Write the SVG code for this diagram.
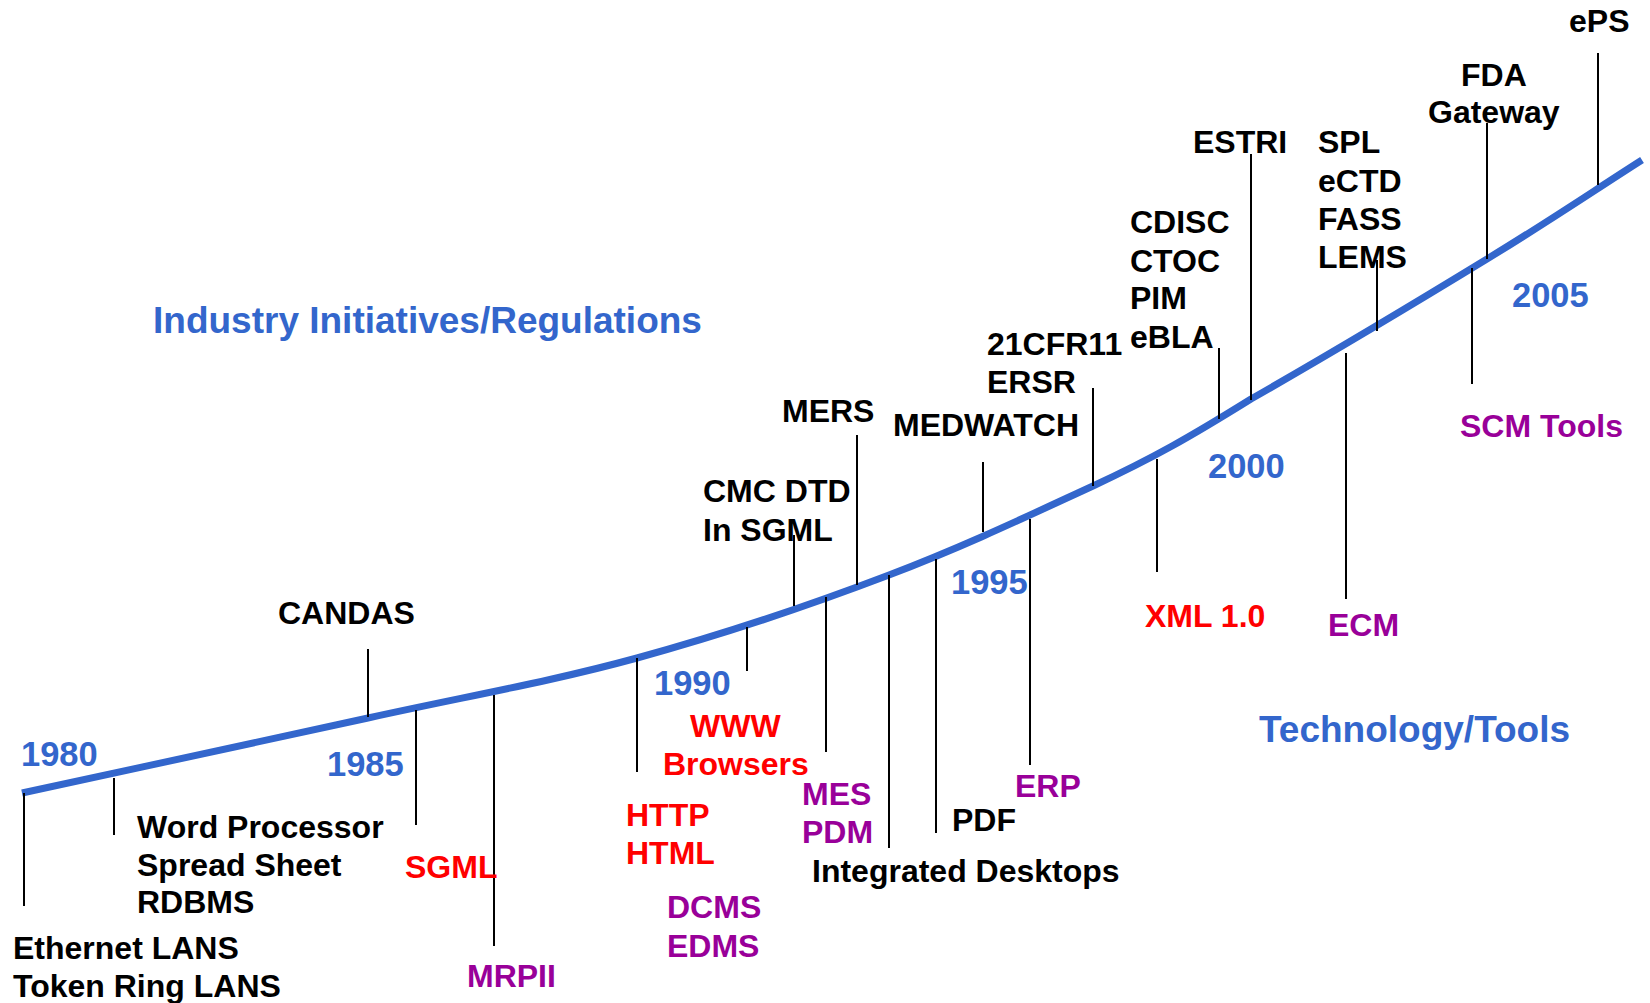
<svg xmlns="http://www.w3.org/2000/svg" width="1650" height="1003" viewBox="0 0 1650 1003">
<style>
text{font-family:"Liberation Sans",Arial,sans-serif;font-weight:bold;font-size:32px}
.k{fill:#000}
.r{fill:#FF0000}
.p{fill:#990099}
.b{fill:#3366CC}
.yr{font-size:34.5px}
.ttl{font-size:37px}
.tick{stroke:#000;stroke-width:2;fill:none}
.curve{stroke:#3366CC;stroke-width:7;fill:none}
</style>
<rect width="1650" height="1003" fill="#fff"/>
<g id="timeline">
<path class="curve" d="M22,793 C137.3,768 265.5,740.5 368,718 C470.5,695.5 550.2,681.8 637,658 C723.8,634.2 813,604 889,575 C965,546 1030,515 1093,486 C1153,458 1190,437 1251,399 C1316.7,361.5 1421.8,298.8 1487,259 C1552.2,219.2 1590.3,193 1642,160"/>
</g>
<g id="connectors">
<line class="tick" x1="24" y1="793" x2="24" y2="906"/>
<line class="tick" x1="114" y1="778" x2="114" y2="835"/>
<line class="tick" x1="368" y1="649" x2="368" y2="717"/>
<line class="tick" x1="416" y1="710" x2="416" y2="825"/>
<line class="tick" x1="494" y1="695" x2="494" y2="946"/>
<line class="tick" x1="637" y1="658" x2="637" y2="772"/>
<line class="tick" x1="747" y1="627" x2="747" y2="671"/>
<line class="tick" x1="794" y1="535" x2="794" y2="606"/>
<line class="tick" x1="826" y1="597" x2="826" y2="752"/>
<line class="tick" x1="857" y1="435" x2="857" y2="585"/>
<line class="tick" x1="889" y1="575" x2="889" y2="848"/>
<line class="tick" x1="936" y1="559" x2="936" y2="833"/>
<line class="tick" x1="983" y1="462" x2="983" y2="532"/>
<line class="tick" x1="1030" y1="519" x2="1030" y2="765"/>
<line class="tick" x1="1093" y1="388" x2="1093" y2="486"/>
<line class="tick" x1="1157" y1="459" x2="1157" y2="572"/>
<line class="tick" x1="1219" y1="348" x2="1219" y2="419"/>
<line class="tick" x1="1251" y1="154" x2="1251" y2="400"/>
<line class="tick" x1="1346" y1="353" x2="1346" y2="599"/>
<line class="tick" x1="1377" y1="260" x2="1377" y2="331"/>
<line class="tick" x1="1472" y1="268" x2="1472" y2="384"/>
<line class="tick" x1="1487" y1="123" x2="1487" y2="259"/>
<line class="tick" x1="1598" y1="53" x2="1598" y2="185"/>
</g>
<g id="title-industry"><text class="b ttl" x="153" y="333">Industry Initiatives/Regulations</text></g>
<g id="title-tech"><text class="b ttl" x="1259" y="742">Technology/Tools</text></g>
<g id="y1980"><text class="b yr" x="21" y="766">1980</text></g>
<g id="y1985"><text class="b yr" x="327" y="776">1985</text></g>
<g id="y1990"><text class="b yr" x="654" y="695">1990</text></g>
<g id="y1995"><text class="b yr" x="951" y="594">1995</text></g>
<g id="y2000"><text class="b yr" x="1208" y="478">2000</text></g>
<g id="y2005"><text class="b yr" x="1512" y="307">2005</text></g>
<g id="ethernet"><text class="k" x="13" y="959">Ethernet LANS</text><text class="k" x="13" y="997">Token Ring LANS</text></g>
<g id="wordproc"><text class="k" x="137" y="838">Word Processor</text><text class="k" x="137" y="876">Spread Sheet</text><text class="k" x="137" y="913">RDBMS</text></g>
<g id="candas"><text class="k" x="278" y="624">CANDAS</text></g>
<g id="sgml"><text class="r" x="405" y="878">SGML</text></g>
<g id="mrpii"><text class="p" x="467" y="987">MRPII</text></g>
<g id="http"><text class="r" x="626" y="826">HTTP</text><text class="r" x="626" y="864">HTML</text></g>
<g id="dcms"><text class="p" x="667" y="918">DCMS</text><text class="p" x="667" y="957">EDMS</text></g>
<g id="www"><text class="r" x="690" y="737">WWW</text><text class="r" x="663" y="775">Browsers</text></g>
<g id="cmcdtd"><text class="k" x="703" y="502">CMC DTD</text><text class="k" x="703" y="541">In SGML</text></g>
<g id="mers"><text class="k" x="782" y="422">MERS</text></g>
<g id="mes"><text class="p" x="802" y="805">MES</text><text class="p" x="802" y="843">PDM</text></g>
<g id="desktops"><text class="k" x="812" y="882">Integrated Desktops</text></g>
<g id="pdf"><text class="k" x="952" y="831">PDF</text></g>
<g id="erp"><text class="p" x="1015" y="797">ERP</text></g>
<g id="medwatch"><text class="k" x="893" y="436">MEDWATCH</text></g>
<g id="cfr"><text class="k" x="987" y="355">21CFR11</text><text class="k" x="987" y="393">ERSR</text></g>
<g id="xml"><text class="r" x="1145" y="627">XML 1.0</text></g>
<g id="cdisc"><text class="k" x="1130" y="233">CDISC</text><text class="k" x="1130" y="272">CTOC</text><text class="k" x="1130" y="309">PIM</text><text class="k" x="1130" y="348">eBLA</text></g>
<g id="estri"><text class="k" x="1193" y="153">ESTRI</text></g>
<g id="spl"><text class="k" x="1318" y="153">SPL</text><text class="k" x="1318" y="192">eCTD</text><text class="k" x="1318" y="230">FASS</text><text class="k" x="1318" y="268">LEMS</text></g>
<g id="ecm"><text class="p" x="1328" y="636">ECM</text></g>
<g id="fda"><text class="k" x="1461" y="86">FDA</text><text class="k" x="1428" y="123">Gateway</text></g>
<g id="scm"><text class="p" x="1460" y="437">SCM Tools</text></g>
<g id="eps"><text class="k" x="1569" y="32">ePS</text></g>
</svg>
